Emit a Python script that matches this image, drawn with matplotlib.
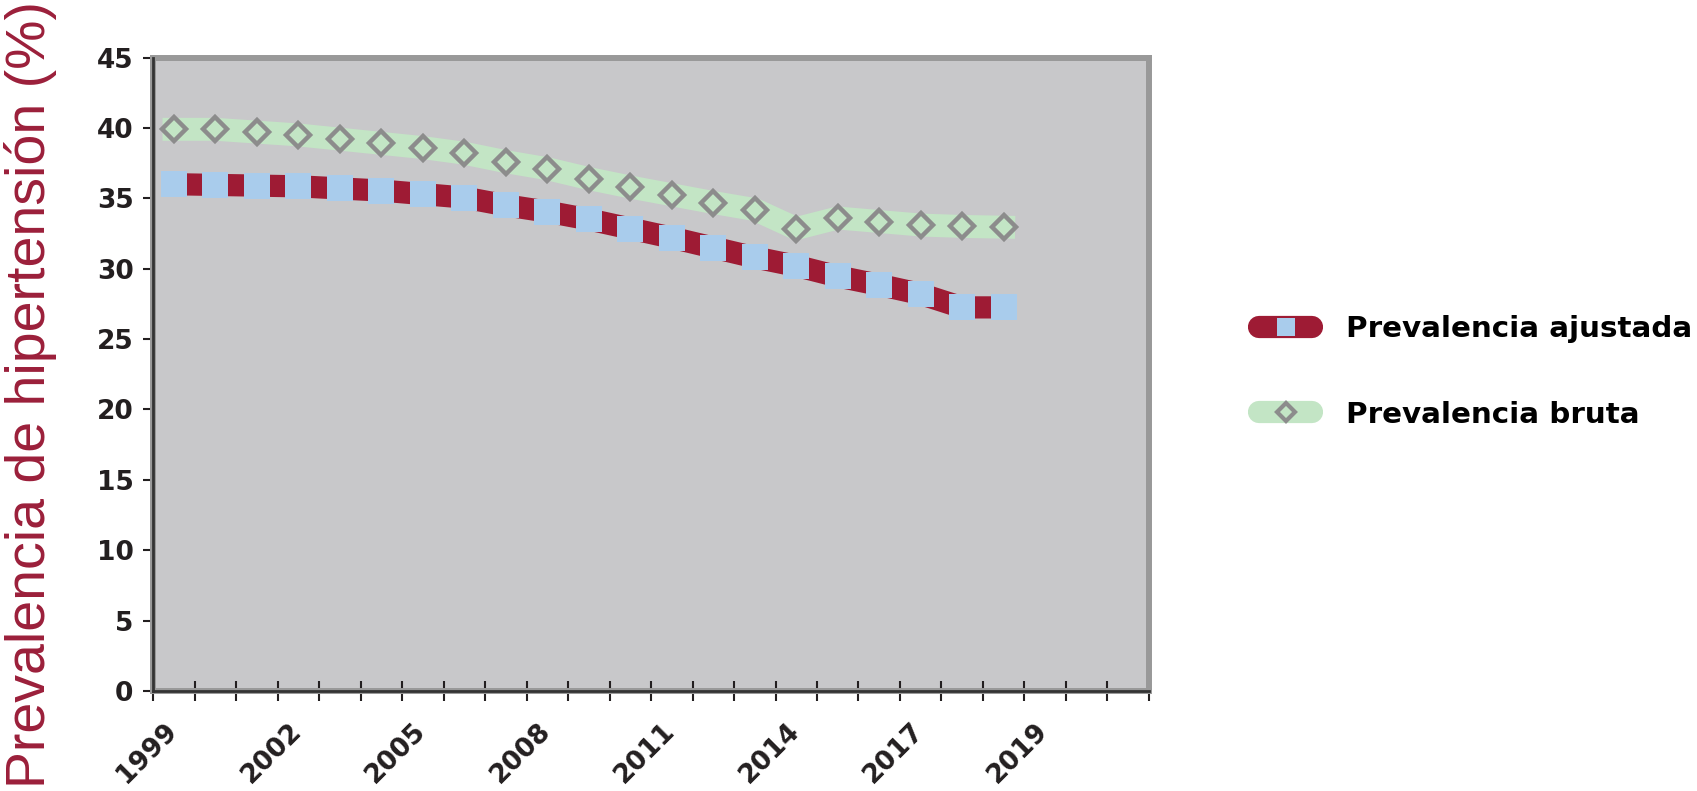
import matplotlib
matplotlib.use("Agg")
import matplotlib.pyplot as plt
from matplotlib.lines import Line2D
from matplotlib.transforms import blended_transform_factory, ScaledTranslation

# valores (21 puntos, 24 categorias en el eje)
ajustada = [36.0, 35.95, 35.9, 35.85, 35.7, 35.55, 35.3, 35.05, 34.5, 34.05, 33.5,
            32.85, 32.2, 31.5, 30.8, 30.2, 29.45, 28.85, 28.2, 27.25, 27.25]
bruta = [39.9, 39.9, 39.7, 39.5, 39.2, 38.9, 38.6, 38.2, 37.6, 37.1, 36.4,
         35.8, 35.25, 34.7, 34.2, 32.85, 33.6, 33.35, 33.1, 33.0, 32.95]
n_categorias = 24
tick_labels = ["1999", "2002", "2005", "2008", "2011", "2014", "2017", "2019"]
tick_cada = 3

rojo = "#9e1b34"
azul = "#a9ccec"
verde = "#c3e5c5"
gris_rombo = "#8c8c8c"
texto = "#231f20"


def main():
    fig = plt.figure(figsize=(16.97, 7.91), dpi=100)
    ax = fig.add_axes([0.0903, 0.1264, 0.5867, 0.8009])
    ax.set_facecolor("#c8c8ca")

    x = [i + 0.5 for i in range(len(ajustada))]
    ax.plot(x, ajustada, color=rojo, lw=16, solid_joinstyle="miter",
            marker="s", ms=18.7, mfc=azul, mew=0, zorder=3)
    ax.plot(x, bruta, color=verde, lw=16.5, solid_joinstyle="round",
            marker="D", ms=12, mfc=verde, mec=gris_rombo, mew=3.2, zorder=3)

    ax.set_xlim(0, n_categorias)
    ax.set_ylim(0, 45)
    ax.set_xticks(range(n_categorias + 1))
    ax.set_yticks(range(0, 46, 5))
    ax.tick_params(axis="y", direction="out", length=7.2, width=1.5, pad=7,
                   labelsize=19, colors=texto)
    ax.tick_params(axis="x", direction="inout", length=14.4, width=1.5,
                   labelbottom=False, colors=texto)
    for lab in ax.get_yticklabels():
        lab.set_fontweight("bold")

    # etiquetas del eje x, giradas
    trans = blended_transform_factory(ax.transData, ax.transAxes) + \
        ScaledTranslation(20 / 100, -36 / 100, fig.dpi_scale_trans)
    for k, lbl in enumerate(tick_labels):
        ax.text(k * tick_cada, 0, lbl, transform=trans, rotation=45,
                rotation_mode="anchor", ha="right", va="center",
                fontsize=19, fontweight="bold", color=texto)

    for s in ax.spines.values():
        s.set_color("#999999")
        s.set_linewidth(4.3)
    ax.plot([0, 0], [0, 1], transform=ax.transAxes, color="#333333", lw=2,
            clip_on=False, zorder=4)
    ax.plot([0, 1], [0, 0], transform=ax.transAxes, color="#333333", lw=2,
            clip_on=False, zorder=4)

    fig.text(0.018, 1 - 394 / 791, "Prevalencia de hipertensión (%)",
             rotation=90, ha="center", va="center", fontsize=40,
             family="Liberation Sans", color="#9b1f3a")

    handles = [
        Line2D([], [], color=rojo, lw=16, solid_capstyle="round",
               marker="s", ms=12.3, mfc=azul, mew=0),
        Line2D([], [], color=verde, lw=16, solid_capstyle="round",
               marker="D", ms=9, mfc=verde, mec=gris_rombo, mew=3),
    ]
    fig.legend(handles, ["Prevalencia ajustada", "Prevalencia bruta"],
               loc="center left", bbox_to_anchor=(1259 / 1697, 1 - 372 / 791),
               frameon=False, numpoints=1,
               prop=dict(family="DejaVu Sans", weight="bold", size=21.2),
               handlelength=1.8, handletextpad=1.15, labelspacing=1.95,
               borderpad=0, borderaxespad=0)

    fig.savefig("out.png", dpi=100)


if __name__ == "__main__":
    main()
